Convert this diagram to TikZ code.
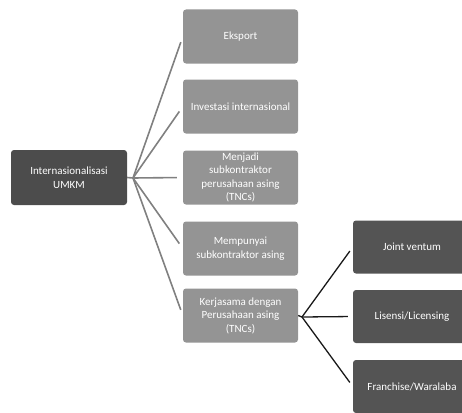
\documentclass[tikz,border=0pt]{standalone}
\usepackage{fontspec}
\setmainfont{Carlito}
\begin{document}
\begin{tikzpicture}[x=1pt,y=-1pt,
  box/.style={rounded corners=3pt, text=white, align=center,
    font=\fontsize{11}{13.5}\selectfont, inner sep=1pt},
  rootbox/.style={box, fill=black!70, minimum width=116pt, minimum height=55pt},
  midbox/.style={box, fill=black!42, minimum width=115pt, minimum height=54pt},
  leafbox/.style={box, fill=black!67, minimum width=118pt, minimum height=53pt},
  graylink/.style={draw=black!50, line width=1.6pt, shorten >=6pt},
  blacklink/.style={draw=black!90, line width=1.3pt, shorten >=5pt}]
\useasboundingbox (0,0) rectangle (462,412);
\clip (0,0) rectangle (462,412);

% root
\node[rootbox] (root) at (69,177.5) {Internasionalisasi\\UMKM};

% first level
\node[midbox] (m1) at (240.5,36.5) {Eksport};
\node[midbox] (m2) at (240.5,106.5) {Investasi internasional};
\node[midbox] (m3) at (240.5,177.5) {Menjadi\\subkontraktor\\perusahaan asing\\(TNCs)};
\node[midbox] (m4) at (240.5,248.5) {Mempunyai\\subkontraktor asing};
\node[midbox] (m5) at (240.5,315.5) {Kerjasama dengan\\Perusahaan asing\\(TNCs)};

% second level
\node[leafbox] (r1) at (412,247) {Joint ventum};
\node[leafbox] (r2) at (412,316.5) {Lisensi/Licensing};
\node[leafbox] (r3) at (412,386.5) {Franchise/Waralaba};

% fan from the root
\coordinate (hub) at (133,178);
\draw[draw=black!50, line width=1.6pt] (root.east) -- (hub);
\foreach \m in {m1,m2,m3,m4,m5}
  \draw[graylink] (hub) -- (\m.west);

% fork to the cooperation forms
\coordinate (hubb) at (302,317);
\draw[draw=black!90, line width=1.3pt] (m5.east) -- (hubb);
\foreach \r in {r1,r2,r3}
  \draw[blacklink] (hubb) -- (\r.west);
\end{tikzpicture}
\end{document}
